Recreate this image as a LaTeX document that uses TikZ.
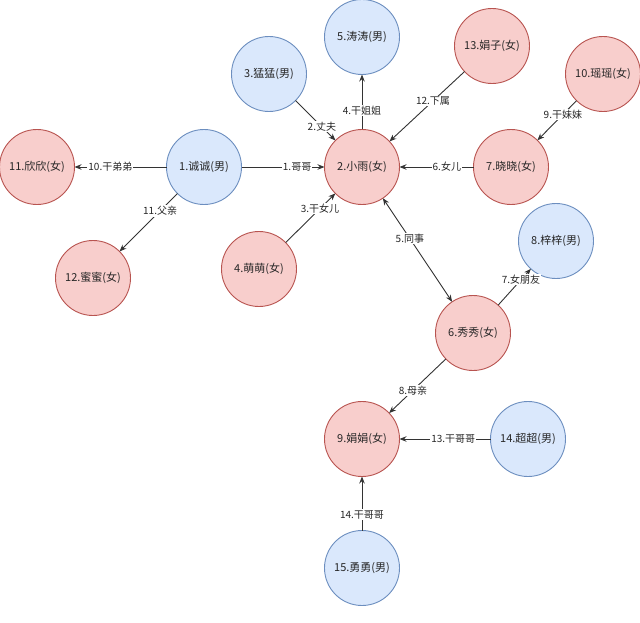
\documentclass[tikz,border=0pt]{standalone}
\usepackage{fontspec}
\setmainfont{Noto Sans CJK SC}
\usetikzlibrary{arrows.meta}
\definecolor{bfill}{HTML}{DAE8FC}
\definecolor{bline}{HTML}{6C8EBF}
\definecolor{rfill}{HTML}{F8CECC}
\definecolor{rline}{HTML}{B85450}
\definecolor{edgec}{HTML}{333333}
\tikzset{
  person/.style={circle, minimum size=75pt, inner sep=0pt, outer sep=0pt, line width=0.9pt, font=\fontsize{11}{13}\selectfont, text=black!85},
  male/.style={person, fill=bfill, draw=bline},
  female/.style={person, fill=rfill, draw=rline},
  rel/.style={draw=edgec, line width=0.9pt, -{Stealth[length=7pt,width=5.5pt]}},
  birel/.style={draw=edgec, line width=0.9pt, {Stealth[length=7pt,width=5.5pt]}-{Stealth[length=7pt,width=5.5pt]}},
  lab/.style={fill=white, inner sep=1pt, font=\fontsize{10}{12}\selectfont, text=black!85}
}
\begin{document}
\begin{tikzpicture}[x=1pt,y=-1pt]
\useasboundingbox (0,0) rectangle (640,623);
\node[male]   (n1)  at (204,167) {1.诚诚(男)};
\node[female] (n2)  at (362,167) {2.小雨(女)};
\node[male]   (n3)  at (269,74)  {3.猛猛(男)};
\node[female] (n4)  at (259,269) {4.萌萌(女)};
\node[male]   (n5)  at (362,37)  {5.涛涛(男)};
\node[female] (n6)  at (473,333) {6.秀秀(女)};
\node[female] (n7)  at (511,167) {7.晓晓(女)};
\node[male]   (n8)  at (556,241) {8.梓梓(男)};
\node[female] (n9)  at (362,439) {9.娟娟(女)};
\node[female] (n10) at (603,74)  {10.瑶瑶(女)};
\node[female] (n11) at (37,167)  {11.欣欣(女)};
\node[female] (n12) at (93,278)  {12.蜜蜜(女)};
\node[female] (n13) at (492,46)  {13.娟子(女)};
\node[male]   (n14) at (528,439) {14.超超(男)};
\node[male]   (n15) at (362,568) {15.勇勇(男)};

\draw[rel] (n1) -- node[lab, pos=0.67] {1.哥哥} (n2);
\draw[rel] (n3) -- node[lab, pos=0.66] {2.丈夫} (n2);
\draw[rel] (n4) -- node[lab, pos=0.69] {3.干女儿} (n2);
\draw[rel] (n2) -- node[lab, pos=0.34] {4.干姐姐} (n5);
\draw[birel] (n2) -- node[lab, pos=0.39] {5.同事} (n6);
\draw[rel] (n7) -- node[lab, pos=0.36] {6.女儿} (n2);
\draw[rel] (n6) -- node[lab, pos=0.70] {7.女朋友} (n8);
\draw[rel] (n6) -- node[lab, pos=0.58] {8.母亲} (n9);
\draw[rel] (n10) -- node[lab, pos=0.35] {9.干妹妹} (n7);
\draw[rel] (n1) -- node[lab, pos=0.61] {10.干弟弟} (n11);
\draw[rel] (n1) -- node[lab, pos=0.30] {11.父亲} (n12);
\draw[rel] (n13) -- node[lab, pos=0.42] {12.下属} (n2);
\draw[rel] (n14) -- node[lab, pos=0.41] {13.干哥哥} (n9);
\draw[rel] (n15) -- node[lab, pos=0.29] {14.干哥哥} (n9);
\end{tikzpicture}
\end{document}
